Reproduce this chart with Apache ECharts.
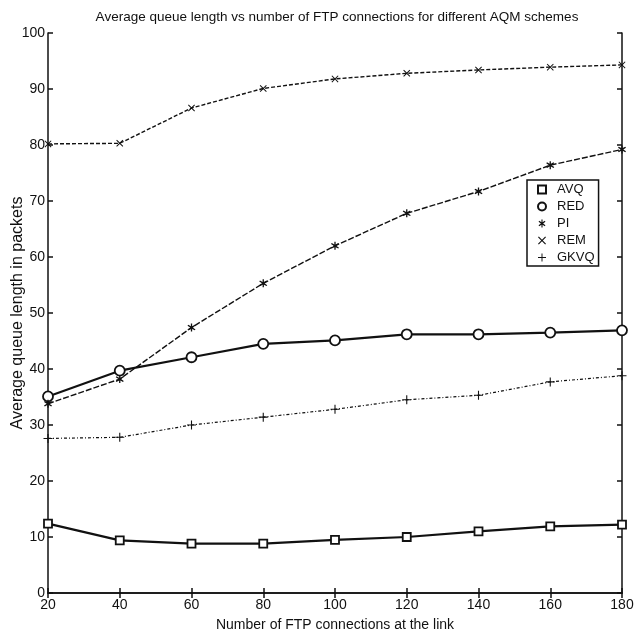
<!DOCTYPE html>
<html>
<head>
<meta charset="utf-8">
<script src="https://cdn.jsdelivr.net/npm/echarts@6/dist/echarts.min.js"></script>
<style>html,body{margin:0;padding:0;background:#fff}#chart{width:634px;height:637px}</style>
</head>
<body>
<div id="chart"></div>
<script>
// Average queue length vs number of FTP connections, five AQM schemes
const CONNS = [20, 40, 60, 80, 100, 120, 140, 160, 180];
const AVQ  = [12.4, 9.4, 8.8, 8.8, 9.5, 10.0, 11.0, 11.9, 12.2];
const RED  = [35.1, 39.7, 42.1, 44.5, 45.1, 46.2, 46.2, 46.5, 46.9];
const PI   = [33.8, 38.2, 47.4, 55.3, 62.0, 67.8, 71.7, 76.4, 79.2];
const REM  = [80.2, 80.3, 86.6, 90.1, 91.8, 92.8, 93.4, 93.9, 94.3];
const GKVQ = [27.6, 27.8, 30.0, 31.4, 32.8, 34.5, 35.3, 37.7, 38.8];

const FONT = "'Liberation Sans Narrow', 'Liberation Sans', Arial, sans-serif";
const pair = (ys) => CONNS.map((x, i) => [x, ys[i]]);

// thin glyph-like markers (filled outlines so ECharts can draw them)
const PLUS = "path://M4.4,0H5.6V4.4H10V5.6H5.6V10H4.4V5.6H0V4.4H4.4Z";
const CROSS = "path://M1,0L5,4L9,0L10,1L6,5L10,9L9,10L5,6L1,10L0,9L4,5L0,1Z";
const STAR = "path://M4.3,0H5.7V3.3L8.5,1.5L9.3,2.7L6.4,5L9.3,7.3L8.5,8.5L5.7,6.7V10H4.3V6.7L1.5,8.5L0.7,7.3L3.6,5L0.7,2.7L1.5,1.5L4.3,3.3Z";

const chart = echarts.init(document.getElementById("chart"));

const line = (name, ys, symbol, size, lw, type, hollow) => ({
  name, type: "line", data: pair(ys), symbol, symbolSize: size,
  lineStyle: { color: "#111", width: lw, type },
  itemStyle: hollow ? { color: "#fff", borderColor: "#111", borderWidth: 1.8 } : { color: "#111" },
  emphasis: { disabled: true }, z: 3,
});

const tick = { inside: true, length: 5, lineStyle: { color: "#111", width: 1.5 } };
const axLine = { lineStyle: { color: "#111", width: 1.5 } };

chart.setOption({
  animation: false,
  title: {
    text: "Average queue length vs number of FTP connections for different AQM schemes",
    left: 332, top: 5, textAlign: "center",
    textStyle: { fontFamily: FONT, fontSize: 13.5, fontWeight: "normal", color: "#111" },
  },
  grid: { left: 48, right: 12, top: 33, bottom: 44, outerBoundsMode: "none", containLabel: false },
  legend: {
    data: [
      { name: "AVQ", icon: "rect" },
      { name: "RED", icon: "circle" },
      { name: "PI", icon: STAR },
      { name: "REM", icon: CROSS },
      { name: "GKVQ", icon: PLUS },
    ],
    orient: "vertical", left: 527, top: 180, itemGap: 4, itemWidth: 8, itemHeight: 8,
    padding: [3, 4, 2, 10], borderColor: "#111", borderWidth: 1.5, backgroundColor: "#fff",
    textStyle: { fontFamily: FONT, fontSize: 13, color: "#111", padding: [0, 0, 0, 6] },
  },
  xAxis: [
    {
      type: "value", min: 20, max: 180, interval: 20,
      name: "Number of FTP connections at the link", nameLocation: "middle", nameGap: 25,
      nameMoveOverlap: false,
      nameTextStyle: { fontFamily: FONT, fontSize: 14, color: "#111" },
      axisLine: axLine, axisTick: tick,
      axisLabel: { fontFamily: FONT, fontSize: 14, color: "#111", margin: 5 },
      splitLine: { show: false },
    },
    {
      type: "value", min: 20, max: 180, interval: 20, position: "top",
      axisLine: axLine, axisTick: tick, axisLabel: { show: false }, splitLine: { show: false },
    },
  ],
  yAxis: [
    {
      type: "value", min: 0, max: 100, interval: 10,
      name: "Average queue length in packets", nameLocation: "middle", nameGap: 22,
      nameMoveOverlap: false,
      nameTextStyle: { fontFamily: FONT, fontSize: 16, color: "#111" },
      axisLine: axLine, axisTick: tick,
      axisLabel: { fontFamily: FONT, fontSize: 14, color: "#111", margin: 3 },
      splitLine: { show: false },
    },
    {
      type: "value", min: 0, max: 100, interval: 10, position: "right",
      axisLine: axLine, axisTick: tick, axisLabel: { show: false }, splitLine: { show: false },
    },
  ],
  series: [
    line("AVQ", AVQ, "rect", 8, 2.2, "solid", true),
    line("RED", RED, "circle", 10, 2.2, "solid", true),
    line("PI", PI, STAR, 8, 1.4, [6, 2], false),
    line("REM", REM, CROSS, 7, 1.4, [4, 2], false),
    line("GKVQ", GKVQ, PLUS, 9, 1.2, [3, 2, 1, 2], false),
  ],
});
</script>
</body>
</html>
